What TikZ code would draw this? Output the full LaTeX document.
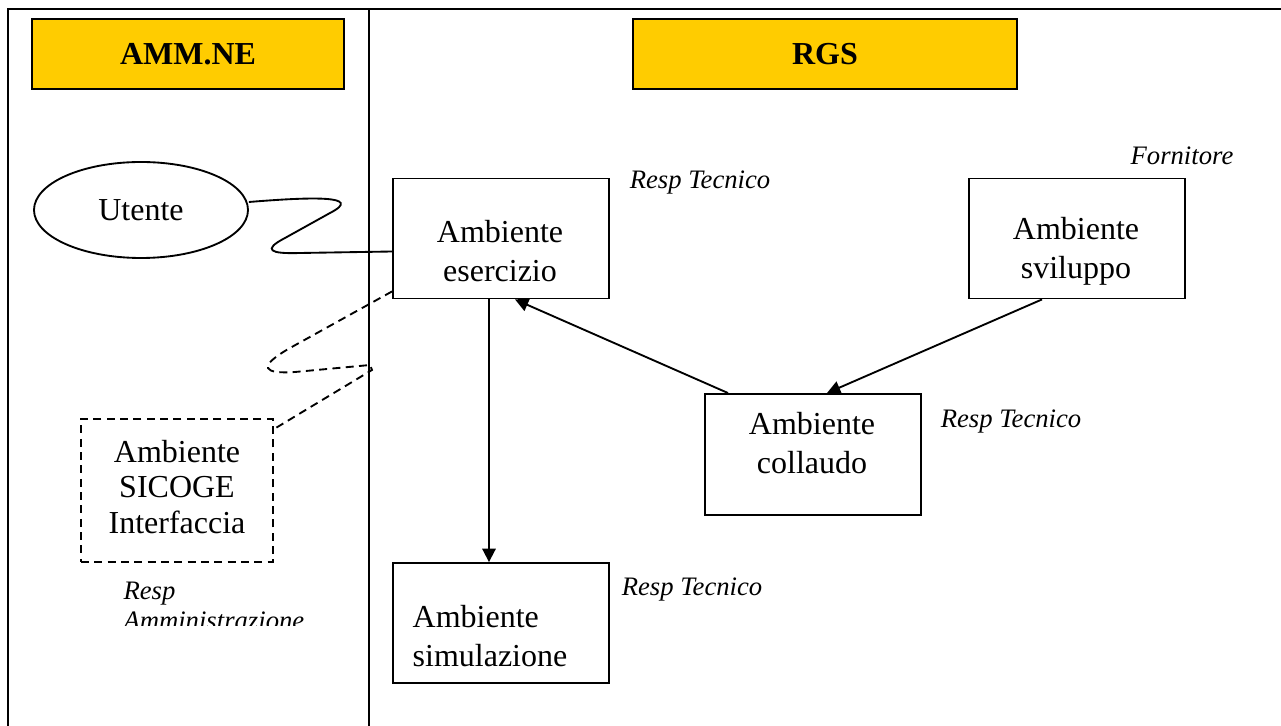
\documentclass[tikz,border=0pt]{standalone}
\usepackage{fontspec}
\setmainfont{Liberation Serif}
\usetikzlibrary{shapes.geometric,arrows.meta,calc}
\definecolor{rgsyellow}{HTML}{FFCC00}

\begin{document}
\begin{tikzpicture}[x=0.375pt,y=-0.375pt,
  titlebox/.style={draw,fill=rgsyellow,line width=0.75pt,minimum height=26.25pt,font=\bfseries\fontsize{12}{14}\selectfont},
  envbox/.style={draw,line width=0.7pt,minimum width=81pt,minimum height=45pt,inner sep=0pt},
  envtext/.style={align=center,inner sep=0pt,font=\fontsize{12}{14.6}\selectfont},
  resp/.style={inner sep=0pt,font=\itshape\fontsize{10}{11}\selectfont},
  link/.style={line width=0.7pt},
  flow/.style={line width=0.7pt,-{Triangle[length=5pt,width=5pt]}},
  dashline/.style={line width=0.7pt,dash pattern=on 3pt off 2pt}]
  \useasboundingbox (0,0) rectangle (1281,726);

  \draw[line width=0.6pt] (1281,9) -- (8,9) -- (8,726);
  \draw[line width=0.6pt] (369,9) -- (369,726);

  \node[titlebox,minimum width=117pt] (amm) at (188,54) {AMM.NE};
  \node[titlebox,minimum width=144pt] (rgs) at (825,54) {RGS};

  \node[draw,ellipse,line width=0.7pt,minimum width=80.25pt,minimum height=36pt,inner sep=0pt,
    font=\fontsize{12}{14}\selectfont] (utente) at (141,210) {Utente};

  \node[envbox] (esercizio) at (501,238.5) {};
  \node[envbox] (sviluppo) at (1077,238.5) {};
  \node[envbox,minimum height=45.4pt] (collaudo) at (813,454.5) {};
  \node[envbox] (simulazione) at (501,623) {};
  \node[envbox,dashline,minimum width=72pt,minimum height=53.6pt] (sicoge) at (177,490.5) {};

  \node[envtext] (t-esercizio) at (500,251) {Ambiente\\esercizio};
  \node[envtext] (t-sviluppo) at (1076,251) {Ambiente\\sviluppo};
  \node[envtext] (t-collaudo) at (812,443) {Ambiente\\collaudo};
  \node[envtext,align=left] (t-simulazione) at (490,636) {Ambiente\\simulazione};
  \node[envtext,font=\fontsize{12}{13.2}\selectfont] (t-sicoge) at (177,487) {Ambiente\\SICOGE\\Interfaccia};

  \foreach \name/\x/\y in {rt1/700/183, rt2/1011/422, rt3/692/590} {
    \node[resp] (\name) at (\x,\y) {Resp Tecnico};
  }
  \node[resp] (fornitore) at (1182,156) {Fornitore};
  \begin{scope}
    \clip (100,570) rectangle (360,625);
    \node[resp,align=left,anchor=north west] (respamm) at (123,582) {Resp\\Amministrazione};
  \end{scope}

  \draw[link] ($(utente.east)+(0,-8)$) .. controls (310,197) and (365,195) .. (330,213)
    -- (285,238) .. controls (262,250) and (270,254) .. (300,253) -- ($(esercizio.west)+(0,13)$);
  \draw[dashline] ($(esercizio.south west)+(0,-8)$) -- (290,348) .. controls (255,368) and (265,374) .. (295,372)
    -- (370,365) -- (372,370) -- ($(sicoge.north east)+(0,11)$);

  \draw[flow] ($(esercizio.south)+(-12,0)$) -- ($(simulazione.north)+(-12,0)$);
  \draw[flow] ($(collaudo.north)+(-85,0)$) -- ($(esercizio.south)+(14,0)$);
  \draw[flow] ($(sviluppo.south)+(-35,0)$) -- ($(collaudo.north)+(14,0)$);
\end{tikzpicture}
\end{document}
